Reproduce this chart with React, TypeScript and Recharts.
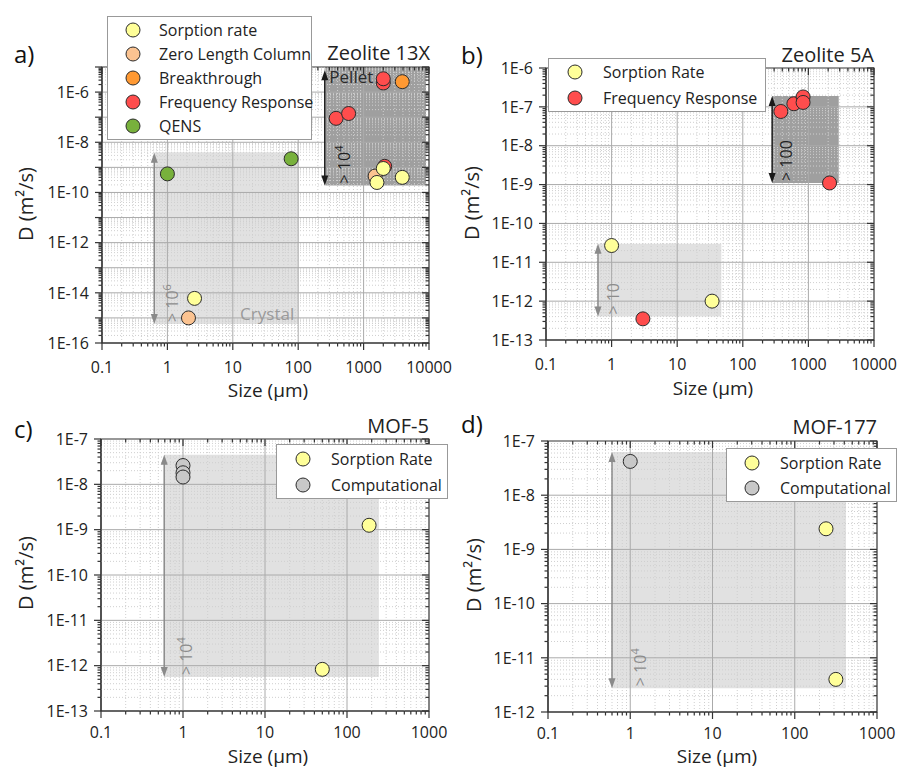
import React from "react";
import { ScatterChart, Scatter, XAxis, YAxis, ReferenceLine, ReferenceArea } from "recharts";

const FONT = "'Open Sans', 'Noto Sans', sans-serif";
const INK = "#333333";

type Pt = { x: number; y: number };

// series colours
const C_SORPTION = "#ffff99";
const C_ZLC = "#fbc391";
const C_BREAK = "#ff9933";
const C_FREQ = "#ff4d4d";
const C_QENS = "#78b13c";
const C_COMP = "#c8c8c8";

// ---- a) Zeolite 13X
const aSorption: Pt[] = [{ x: 2.6, y: 6e-15 }, { x: 1600, y: 2.5e-10 }, { x: 2000, y: 9e-10 }, { x: 3900, y: 4e-10 }];
const aZlc: Pt[] = [{ x: 2.1, y: 1e-15 }, { x: 1500, y: 4.5e-10 }];
const aBreak: Pt[] = [{ x: 3900, y: 2.6e-6 }];
const aFreq: Pt[] = [{ x: 2000, y: 2.3e-6 }, { x: 2000, y: 3.4e-6 }, { x: 380, y: 9e-8 }, { x: 590, y: 1.4e-7 }, { x: 2100, y: 1.1e-9 }];
const aQens: Pt[] = [{ x: 1, y: 5.5e-10 }, { x: 78, y: 2.2e-9 }];

// ---- b) Zeolite 5A
const bSorption: Pt[] = [{ x: 1, y: 2.7e-11 }, { x: 34, y: 1e-12 }];
const bFreq: Pt[] = [{ x: 3, y: 3.5e-13 }, { x: 380, y: 7.6e-8 }, { x: 600, y: 1.2e-7 }, { x: 830, y: 1.8e-7 }, { x: 830, y: 1.3e-7 }, { x: 2100, y: 1.1e-9 }];

// ---- c) MOF-5
const cSorption: Pt[] = [{ x: 186, y: 1.25e-9 }, { x: 50, y: 8.3e-13 }];
const cComp: Pt[] = [{ x: 1, y: 2.6e-8 }, { x: 1, y: 1.8e-8 }, { x: 1, y: 1.45e-8 }];

// ---- d) MOF-177
const dSorption: Pt[] = [{ x: 240, y: 2.4e-9 }, { x: 316, y: 4e-12 }];
const dComp: Pt[] = [{ x: 1, y: 4.2e-8 }];

// tick labels
const xLabelsZeolite = [0.1, 1, 10, 100, 1000, 10000];
const xLabelsMof = [0.1, 1, 10, 100, 1000];
const aYLabels = [1e-16, 1e-14, 1e-12, 1e-10, 1e-8, 1e-6];
const bYLabels = [1e-13, 1e-12, 1e-11, 1e-10, 1e-9, 1e-8, 1e-7, 1e-6];
const cYLabels = [1e-13, 1e-12, 1e-11, 1e-10, 1e-9, 1e-8, 1e-7];
const dYLabels = [1e-12, 1e-11, 1e-10, 1e-9, 1e-8, 1e-7];

const exp10 = (e: number) => Number(`1e${e}`);
const expOf = (v: number) => Math.round(Math.log10(v));
const isDecade = (v: number) => Math.abs(Math.log10(v) - expOf(v)) < 1e-6;

function majors(lo: number, hi: number) {
  const out: number[] = [];
  for (let e = expOf(lo); e <= expOf(hi); e++) out.push(exp10(e));
  return out;
}
function minors(lo: number, hi: number) {
  const out: number[] = [];
  for (let e = expOf(lo); e < expOf(hi); e++) for (let m = 2; m <= 9; m++) out.push(m * exp10(e));
  return out;
}

type Shade = { x1: number; x2: number; y1: number; y2: number; dark?: boolean; label?: string; pos?: string };
type Arrow = { x: number; y1: number; y2: number; dark?: boolean; text: string; sup?: string; dx: number };
type Series = { name: string; color: string; data: Pt[] };

type PanelCfg = {
  left: number; top: number; width: number; height: number;
  plot: { left: number; top: number; right: number; bottom: number };
  xDomain: [number, number]; yDomain: [number, number];
  xLabels: number[]; yLabels: number[]; xLabelDy: number;
  draw: Series[];
  shades: Shade[]; arrows: Arrow[];
};

const panels: PanelCfg[] = [
  {
    left: 0, top: 0, width: 470, height: 400,
    plot: { left: 102, top: 67, right: 429, bottom: 343 },
    xDomain: [0.1, 10000], yDomain: [1e-16, 1e-5], xLabels: xLabelsZeolite, yLabels: aYLabels, xLabelDy: 30,
    draw: [
      { name: "QENS", color: C_QENS, data: aQens },
      { name: "Breakthrough", color: C_BREAK, data: aBreak },
      { name: "Frequency Response", color: C_FREQ, data: aFreq },
      { name: "Zero Length Column", color: C_ZLC, data: aZlc },
      { name: "Sorption rate", color: C_SORPTION, data: aSorption },
    ],
    shades: [
      { x1: 0.63, x2: 100, y1: 5.7e-16, y2: 4e-9, label: "Crystal", pos: "insideBottomRight" },
      { x1: 260, x2: 9000, y1: 1.9e-10, y2: 1e-5, dark: true, label: "Pellet", pos: "insideTopLeft" },
    ],
    arrows: [
      { x: 0.63, y1: 5.7e-16, y2: 3.8e-9, text: "> 10", sup: "6", dx: 24 },
      { x: 255, y1: 1.9e-10, y2: 7.5e-6, dark: true, text: "> 10", sup: "4", dx: 25 },
    ],
  },
  {
    left: 449, top: 0, width: 449, height: 400,
    plot: { left: 97, top: 68, right: 425, bottom: 340 },
    xDomain: [0.1, 10000], yDomain: [1e-13, 1e-6], xLabels: xLabelsZeolite, yLabels: bYLabels, xLabelDy: 30,
    draw: [
      { name: "Frequency Response", color: C_FREQ, data: bFreq },
      { name: "Sorption Rate", color: C_SORPTION, data: bSorption },
    ],
    shades: [
      { x1: 0.62, x2: 47, y1: 4e-13, y2: 3e-11 },
      { x1: 280, x2: 2900, y1: 1.1e-9, y2: 1.9e-7, dark: true },
    ],
    arrows: [
      { x: 0.62, y1: 4e-13, y2: 3e-11, text: "> 10", dx: 21 },
      { x: 280, y1: 1.1e-9, y2: 1.9e-7, dark: true, text: "> 100", dx: 20 },
    ],
  },
  {
    left: 0, top: 380, width: 470, height: 388,
    plot: { left: 101, top: 59, right: 429, bottom: 331 },
    xDomain: [0.1, 1000], yDomain: [1e-13, 1e-7], xLabels: xLabelsMof, yLabels: cYLabels, xLabelDy: 27,
    draw: [
      { name: "Computational", color: C_COMP, data: cComp },
      { name: "Sorption Rate", color: C_SORPTION, data: cSorption },
    ],
    shades: [{ x1: 0.59, x2: 245, y1: 5.6e-13, y2: 4.5e-8 }],
    arrows: [{ x: 0.59, y1: 5.6e-13, y2: 4.5e-8, text: "> 10", sup: "4", dx: 28 }],
  },
  {
    left: 449, top: 380, width: 449, height: 388,
    plot: { left: 99, top: 61, right: 428, bottom: 332 },
    xDomain: [0.1, 1000], yDomain: [1e-12, 1e-7], xLabels: xLabelsMof, yLabels: dYLabels, xLabelDy: 27,
    draw: [
      { name: "Computational", color: C_COMP, data: dComp },
      { name: "Sorption Rate", color: C_SORPTION, data: dSorption },
    ],
    shades: [{ x1: 0.6, x2: 420, y1: 2.75e-12, y2: 6.3e-8 }],
    arrows: [{ x: 0.6, y1: 2.75e-12, y2: 6.3e-8, text: "> 10", sup: "4", dx: 34 }],
  },
];

// page-level texts and legends
const panelTags = [
  { t: "a)", x: 14, y: 63 }, { t: "b)", x: 461, y: 64 },
  { t: "c)", x: 14, y: 438 }, { t: "d)", x: 461, y: 433 },
];
const panelTitles = [
  { t: "Zeolite 13X", x: 430, y: 60 }, { t: "Zeolite 5A", x: 874, y: 62 },
  { t: "MOF-5", x: 429, y: 433 }, { t: "MOF-177", x: 877, y: 434 },
];
const yTitles = [{ x: 25, y: 204 }, { x: 471, y: 203 }, { x: 25, y: 573 }, { x: 473, y: 575 }];
const xTitles = [{ x: 268, y: 390 }, { x: 713, y: 388 }, { x: 268, y: 756 }, { x: 717, y: 756 }];

type LegendCfg = { left: number; top: number; width: number; height: number; cx: number; tx: number; rows: { name: string; color: string; y: number }[] };
const legends: LegendCfg[] = [
  {
    left: 107, top: 16, width: 205, height: 124, cx: 133, tx: 159,
    rows: [
      { name: "Sorption rate", color: C_SORPTION, y: 30 },
      { name: "Zero Length Column", color: C_ZLC, y: 54 },
      { name: "Breakthrough", color: C_BREAK, y: 78 },
      { name: "Frequency Response", color: C_FREQ, y: 102 },
      { name: "QENS", color: C_QENS, y: 126 },
    ],
  },
  {
    left: 548, top: 58, width: 218, height: 54, cx: 575, tx: 603,
    rows: [
      { name: "Sorption Rate", color: C_SORPTION, y: 72 },
      { name: "Frequency Response", color: C_FREQ, y: 98 },
    ],
  },
  {
    left: 276, top: 444, width: 172, height: 55, cx: 303, tx: 331,
    rows: [
      { name: "Sorption Rate", color: C_SORPTION, y: 459 },
      { name: "Computational", color: C_COMP, y: 485 },
    ],
  },
  {
    left: 726, top: 448, width: 171, height: 54, cx: 752, tx: 780,
    rows: [
      { name: "Sorption Rate", color: C_SORPTION, y: 463 },
      { name: "Computational", color: C_COMP, y: 488 },
    ],
  },
];

function Dot(props: any) {
  const { cx, cy, fill } = props;
  if (cx == null || cy == null) return null;
  return <circle cx={cx} cy={cy} r={7} fill={fill} stroke="#2b2b2b" strokeWidth={1} />;
}

function arrowShape(a: Arrow) {
  return (p: any) => {
    const x = p.x1;
    const top = Math.min(p.y1, p.y2);
    const bot = Math.max(p.y1, p.y2);
    const col = a.dark ? "#1a1a1a" : "#8a8a8a";
    return (
      <g>
        <line x1={x} x2={x} y1={top + 8} y2={bot - 8} stroke={col} strokeWidth={1.5} />
        <polygon points={`${x},${top} ${x - 3.5},${top + 10} ${x + 3.5},${top + 10}`} fill={col} />
        <polygon points={`${x},${bot} ${x - 3.5},${bot - 10} ${x + 3.5},${bot - 10}`} fill={col} />
        <text transform={`translate(${x + a.dx},${bot - 2}) rotate(-90)`} fill={a.dark ? "#222" : "#8c8c8c"} fontSize={16} fontFamily={FONT}>
          {a.text}
          {a.sup && <tspan dy={-7} fontSize={11}>{a.sup}</tspan>}
        </text>
      </g>
    );
  };
}

function Panel({ cfg }: { cfg: PanelCfg }) {
  const { plot, xDomain, yDomain } = cfg;
  const plotW = plot.right - plot.left;
  const plotH = plot.bottom - plot.top;
  const xMaj = majors(xDomain[0], xDomain[1]);
  const yMaj = majors(yDomain[0], yDomain[1]);
  const xMin = minors(xDomain[0], xDomain[1]);
  const yMin = minors(yDomain[0], yDomain[1]);
  const xTicks = [...xMaj, ...xMin].sort((p, q) => p - q);
  const yTicks = [...yMaj, ...yMin].sort((p, q) => p - q);
  const yLabelSet = cfg.yLabels.map(expOf);
  const xLabelSet = cfg.xLabels.map(expOf);

  const yTick = (props: any) => {
    const { x, y, payload } = props;
    const v = payload.value;
    const major = isDecade(v);
    const len = major ? 7 : 3.5;
    const e = expOf(v);
    return (
      <g>
        <line x1={x} x2={x - len} y1={y} y2={y} stroke={INK} strokeWidth={1.2} />
        <line x1={x + plotW} x2={x + plotW - len} y1={y} y2={y} stroke={INK} strokeWidth={1.2} />
        {major && yLabelSet.includes(e) && (
          <text x={x - 13} y={y} dy="0.36em" textAnchor="end" fontSize={16} fontFamily={FONT} fill="#222">{`1E${e}`}</text>
        )}
      </g>
    );
  };
  const xTick = (props: any) => {
    const { x, y, payload } = props;
    const v = payload.value;
    const major = isDecade(v);
    const len = major ? 7 : 3.5;
    const e = expOf(v);
    return (
      <g>
        <line x1={x} x2={x} y1={y} y2={y + len} stroke={INK} strokeWidth={1.2} />
        <line x1={x} x2={x} y1={y - plotH} y2={y - plotH + len} stroke={INK} strokeWidth={1.2} />
        {major && xLabelSet.includes(e) && (
          <text x={x} y={y + cfg.xLabelDy} textAnchor="middle" fontSize={16} fontFamily={FONT} fill="#222">{e < 0 ? "0.1" : String(exp10(e))}</text>
        )}
      </g>
    );
  };

  const innerX = xMaj.filter((v) => v > xDomain[0] && v < xDomain[1]);
  const innerY = yMaj.filter((v) => v > yDomain[0] && v < yDomain[1]);

  return (
    <div style={{ position: "absolute", left: cfg.left, top: cfg.top }}>
      <ScatterChart
        width={cfg.width}
        height={cfg.height}
        margin={{ top: plot.top, right: cfg.width - plot.right, bottom: 0, left: 0 }}
      >
        <XAxis
          dataKey="x" type="number" scale="log" domain={xDomain} allowDataOverflow
          ticks={xTicks} interval={0} tick={xTick} tickLine={false} tickSize={0} tickMargin={0}
          height={cfg.height - plot.bottom} axisLine={{ stroke: INK, strokeWidth: 1.2 }}
        />
        <YAxis
          dataKey="y" type="number" scale="log" domain={yDomain} allowDataOverflow
          ticks={yTicks} interval={0} tick={yTick} tickLine={false} tickSize={0} tickMargin={0}
          width={plot.left} axisLine={{ stroke: INK, strokeWidth: 1.2 }}
        />
        {xMin.map((v) => (
          <ReferenceLine key={`xm${v}`} x={v} stroke="#cfcfcf" strokeDasharray="1 2" />
        ))}
        {yMin.map((v) => (
          <ReferenceLine key={`ym${v}`} y={v} stroke="#cfcfcf" strokeDasharray="1 2" />
        ))}
        {innerX.map((v) => (
          <ReferenceLine key={`xM${v}`} x={v} stroke="#aaaaaa" />
        ))}
        {innerY.map((v) => (
          <ReferenceLine key={`yM${v}`} y={v} stroke="#aaaaaa" />
        ))}
        {cfg.shades.map((s, i) => (
          <ReferenceArea
            key={`s${i}`} x1={s.x1} x2={s.x2} y1={s.y1} y2={s.y2}
            fill={s.dark ? "#7a7a7a" : "#bdbdbd"} fillOpacity={s.dark ? 0.72 : 0.45} stroke="none"
            label={s.label ? { value: s.label, position: s.pos as any, fill: s.dark ? "#2a2a2a" : "#9a9a9a", fontSize: 17, fontFamily: FONT, offset: 4 } : undefined}
          />
        ))}
        {cfg.arrows.map((a, i) => (
          <ReferenceLine key={`a${i}`} segment={[{ x: a.x, y: a.y1 }, { x: a.x, y: a.y2 }]} shape={arrowShape(a)} ifOverflow="visible" />
        ))}
        <ReferenceArea x1={xDomain[0]} x2={xDomain[1]} y1={yDomain[0]} y2={yDomain[1]} fill="none" stroke={INK} strokeWidth={1.2} />
        {cfg.draw.map((s) => (
          <Scatter key={s.name} name={s.name} data={s.data} fill={s.color} shape={<Dot />} isAnimationActive={false} />
        ))}
      </ScatterChart>
    </div>
  );
}

function LegendBox({ cfg }: { cfg: LegendCfg }) {
  return (
    <>
      <div
        style={{
          position: "absolute", left: cfg.left, top: cfg.top, width: cfg.width, height: cfg.height,
          background: "#fff", border: "1px solid #999", boxSizing: "border-box",
        }}
      />
      {cfg.rows.map((r) => (
        <React.Fragment key={r.name}>
          <svg style={{ position: "absolute", left: cfg.cx - 9, top: r.y - 9 }} width={18} height={18}>
            <circle cx={9} cy={9} r={7} fill={r.color} stroke="#2b2b2b" strokeWidth={1} />
          </svg>
          <div
            style={{
              position: "absolute", left: cfg.tx, top: r.y - 12, height: 24, lineHeight: "24px",
              fontSize: 16, fontFamily: FONT, color: "#222", whiteSpace: "nowrap",
            }}
          >
            {r.name}
          </div>
        </React.Fragment>
      ))}
    </>
  );
}

export default function App() {
  return (
    <div style={{ position: "absolute", left: 0, top: 0, width: 898, height: 768, background: "#fff", overflow: "hidden" }}>
      {panels.map((p, i) => (
        <Panel key={i} cfg={p} />
      ))}
      <svg style={{ position: "absolute", left: 0, top: 0, pointerEvents: "none" }} width={898} height={768}>
        {panelTags.map((t) => (
          <text key={t.t} x={t.x} y={t.y} fontSize={24} fontFamily={FONT} fill="#111">{t.t}</text>
        ))}
        {panelTitles.map((t) => (
          <text key={t.t} x={t.x} y={t.y} textAnchor="end" fontSize={20} fontFamily={FONT} fill="#222">{t.t}</text>
        ))}
        {yTitles.map((t, i) => (
          <text key={`yt${i}`} transform={`translate(${t.x},${t.y}) rotate(-90)`} textAnchor="middle" dominantBaseline="central" fontSize={20} fontFamily={FONT} fill="#222">
            D (m²/s)
          </text>
        ))}
        {xTitles.map((t, i) => (
          <text key={`xt${i}`} x={t.x} y={t.y} textAnchor="middle" dominantBaseline="central" fontSize={19} fontFamily={FONT} fill="#222">
            Size (μm)
          </text>
        ))}
      </svg>
      {legends.map((l, i) => (
        <LegendBox key={i} cfg={l} />
      ))}
    </div>
  );
}
